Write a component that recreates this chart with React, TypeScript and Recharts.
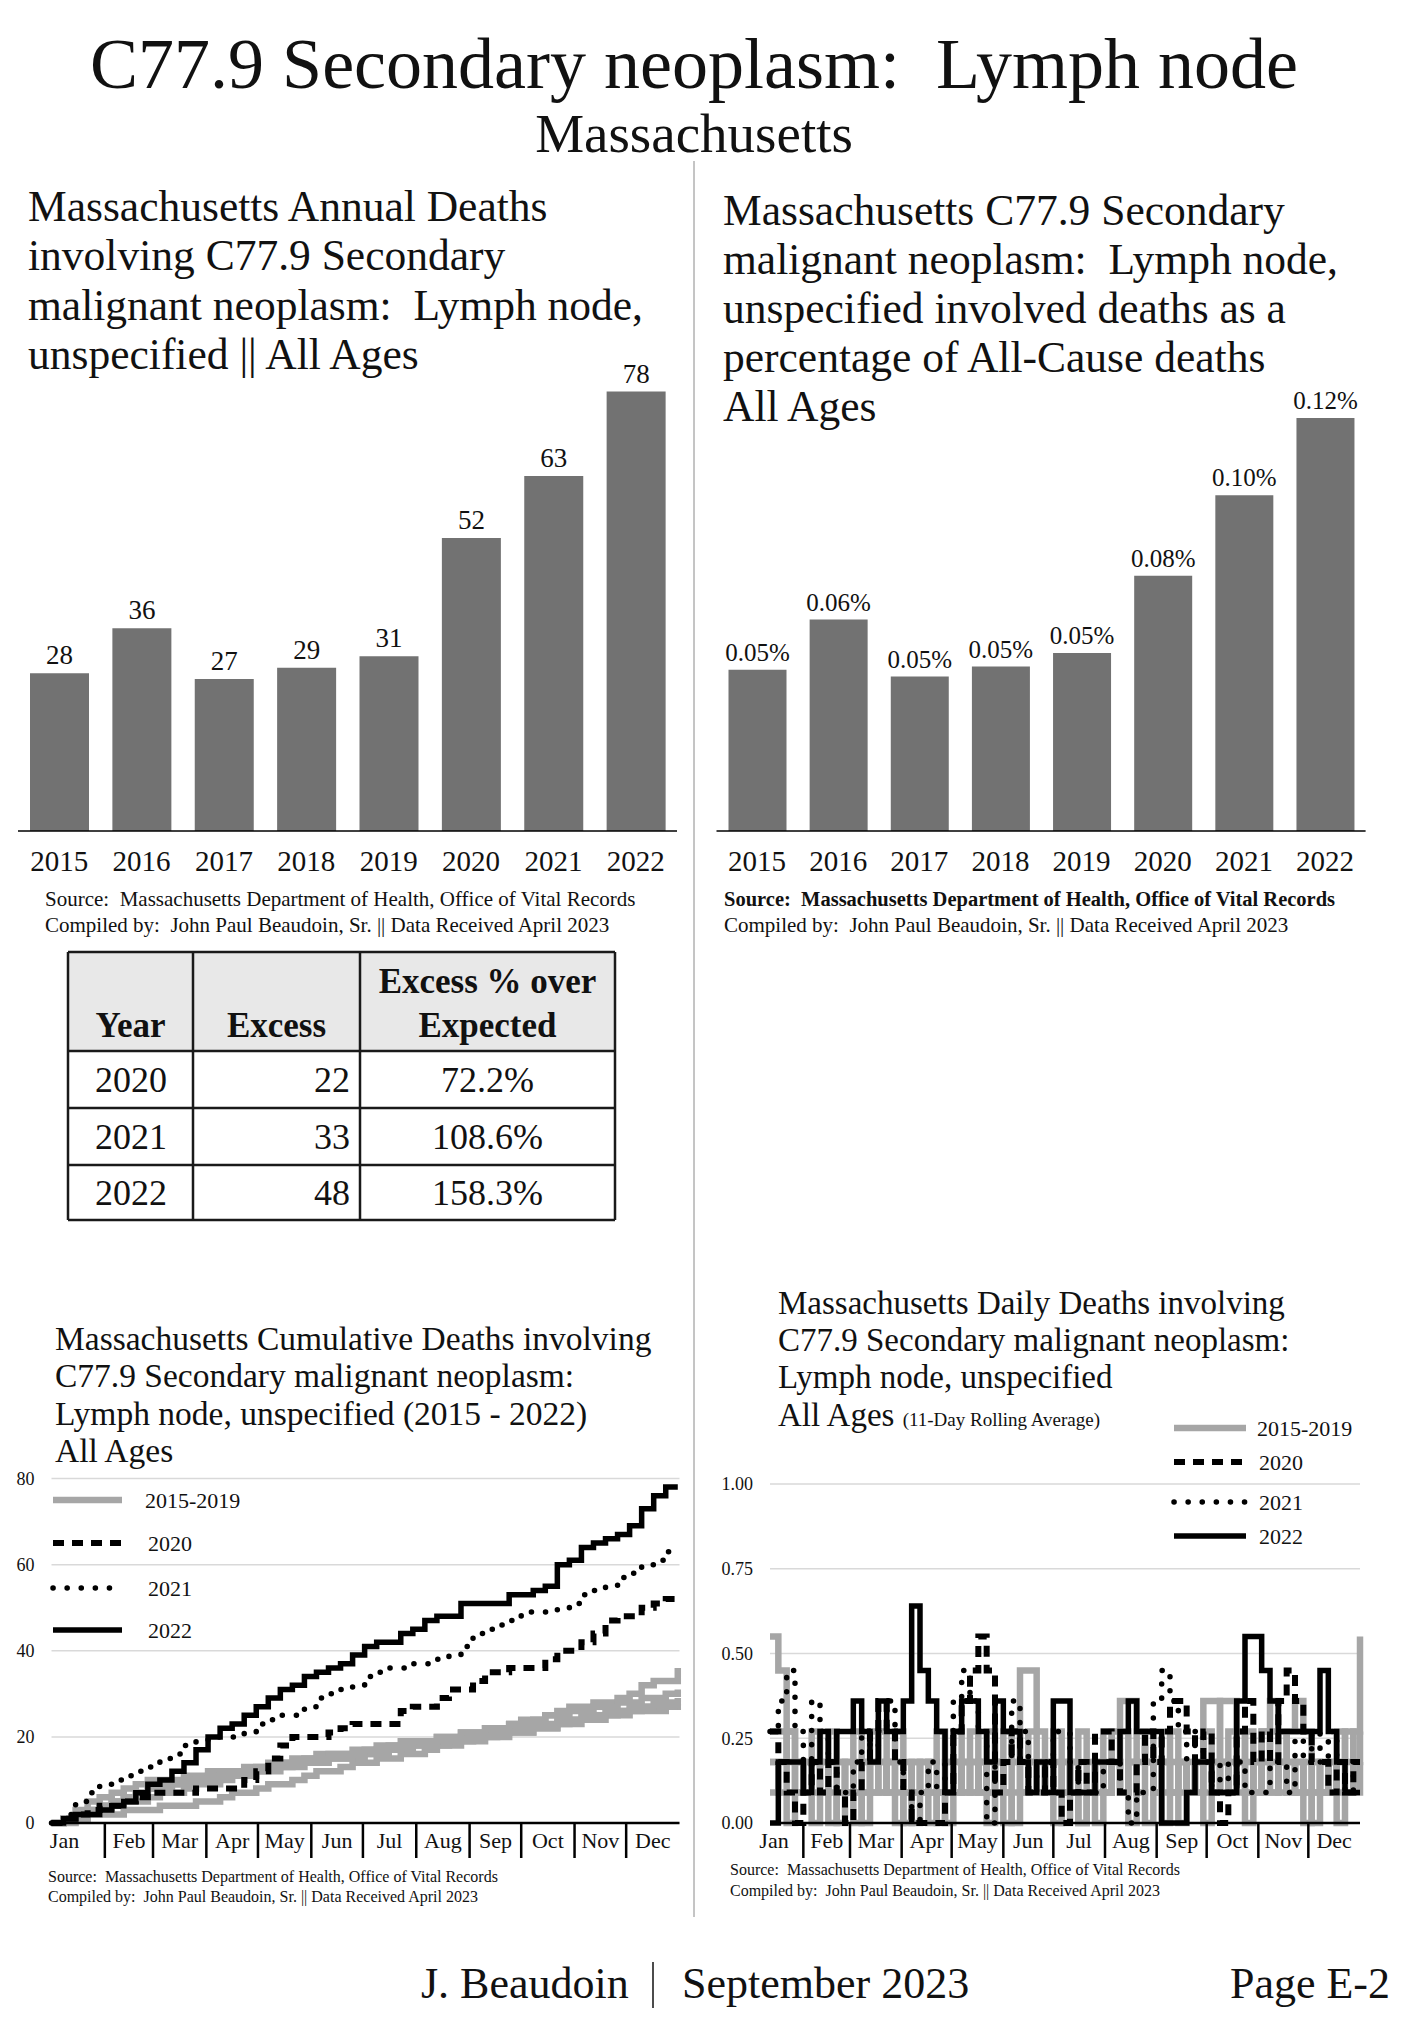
import React from 'react'
import {
  BarChart, Bar, XAxis, YAxis, LabelList, LineChart, Line, CartesianGrid,
} from 'recharts'

const SERIF = '"Liberation Serif", "Times New Roman", Times, serif'
const INK = '#111'
const BAR_GRAY = '#727272'
const LINE_GRAY = '#a6a6a6'
const GRID = '#d9d9d9'

// annual charts
const YEARS = ['2015', '2016', '2017', '2018', '2019', '2020', '2021', '2022']
const ANNUAL_DEATHS = [28, 36, 27, 29, 31, 52, 63, 78]
const PCT_OF_ALL_CAUSE = [0.048, 0.063, 0.046, 0.049, 0.053, 0.076, 0.1, 0.123]

// excess table
const TABLE_YEARS = ['2020', '2021', '2022']
const TABLE_EXCESS = [22, 33, 48]
const TABLE_EXCESS_PCT = ['72.2%', '108.6%', '158.3%']

const MONTHS = ['Jan', 'Feb', 'Mar', 'Apr', 'May', 'Jun', 'Jul', 'Aug', 'Sep', 'Oct', 'Nov', 'Dec']
const MONTH_START_DAYS = [0, 31, 59, 90, 120, 151, 181, 212, 243, 273, 304, 334]

// cumulative deaths, sampled weekly (day of year)
const CUM_DAYS = [
  0, 7, 14, 21, 28, 35, 42, 49, 56, 63, 70, 77, 84,
  91, 98, 105, 112, 119, 126, 133, 140, 147, 154, 161, 168, 175,
  182, 189, 196, 203, 210, 217, 224, 231, 238, 245, 252, 259, 266,
  273, 280, 287, 294, 301, 308, 315, 322, 329, 336, 343, 350, 357,
  364,
]
const CUM_2015 = [
  0, 1, 1, 2, 2, 2, 3, 3, 3, 4, 4, 4, 5,
  5, 6, 7, 7, 8, 9, 9, 10, 11, 12, 12, 13, 14,
  14, 15, 15, 16, 16, 17, 18, 18, 19, 19, 20, 20, 21,
  21, 22, 22, 23, 24, 24, 25, 25, 26, 26, 27, 27, 27,
  28,
]
const CUM_2016 = [
  0, 1, 3, 5, 6, 7, 8, 9, 10, 10, 10, 11, 11,
  12, 12, 12, 13, 13, 14, 14, 15, 15, 16, 16, 16, 17,
  17, 18, 18, 19, 19, 19, 20, 20, 21, 21, 22, 22, 23,
  24, 24, 25, 26, 27, 27, 28, 28, 29, 30, 32, 33, 33,
  36,
]
const CUM_2017 = [
  0, 1, 2, 3, 4, 5, 6, 7, 8, 9, 9, 10, 10,
  10, 11, 11, 12, 12, 13, 13, 14, 14, 14, 15, 15, 15,
  16, 16, 17, 17, 18, 18, 18, 19, 19, 20, 20, 21, 21,
  21, 22, 22, 23, 23, 24, 24, 25, 25, 26, 26, 26, 27,
  27,
]
const CUM_2018 = [
  0, 0, 1, 2, 3, 4, 5, 5, 6, 7, 7, 8, 9,
  9, 10, 11, 11, 12, 12, 13, 13, 14, 14, 15, 15, 16,
  16, 17, 17, 18, 18, 18, 19, 19, 20, 20, 21, 21, 22,
  22, 23, 23, 24, 24, 25, 25, 26, 26, 27, 27, 28, 28,
  29,
]
const CUM_2019 = [
  0, 1, 2, 3, 4, 5, 6, 7, 8, 8, 9, 9, 10,
  11, 11, 12, 12, 13, 13, 14, 14, 15, 15, 16, 16, 16,
  17, 17, 18, 18, 19, 19, 20, 20, 21, 21, 22, 22, 23,
  23, 24, 25, 25, 26, 26, 27, 27, 28, 28, 29, 29, 30,
  31,
]
const CUM_2020 = [
  0, 1, 2, 3, 4, 4, 5, 6, 7, 7, 7, 7, 8,
  8, 8, 8, 10, 12, 15, 18, 20, 20, 20, 21, 22, 23,
  23, 23, 23, 26, 27, 27, 29, 31, 31, 33, 35, 35, 36,
  36, 36, 38, 40, 40, 42, 44, 47, 48, 48, 50, 51, 52,
  53,
]
const CUM_2021 = [
  0, 2, 5, 7, 9, 10, 11, 12, 13, 15, 16, 18, 19,
  20, 20, 20, 21, 23, 24, 25, 25, 27, 29, 30, 31, 32,
  34, 35, 36, 36, 37, 37, 38, 39, 41, 44, 45, 46, 47,
  49, 49, 49, 50, 51, 53, 54, 55, 57, 58, 60, 61, 63,
  63,
]
const CUM_2022 = [
  0, 1, 2, 2, 3, 4, 5, 7, 9, 10, 12, 14, 17,
  20, 22, 23, 25, 27, 29, 31, 32, 34, 35, 36, 37, 39,
  41, 42, 42, 44, 45, 47, 48, 48, 51, 51, 51, 51, 53,
  53, 54, 55, 60, 61, 64, 65, 66, 67, 69, 73, 76, 78,
  78,
]

// daily deaths, 11-day rolling average, sampled every 5 days
const DAILY_DAYS = [
  11, 16, 21, 26, 31, 36, 41, 46, 51, 56, 61, 66,
  71, 76, 81, 86, 91, 96, 101, 106, 111, 116, 121, 126,
  131, 136, 141, 146, 151, 156, 161, 166, 171, 176, 181, 186,
  191, 196, 201, 206, 211, 216, 221, 226, 231, 236, 241, 246,
  251, 256, 261, 266, 271, 276, 281, 286, 291, 296, 301, 306,
  311, 316, 321, 326, 331, 336, 341, 346, 351, 356, 361, 365,
]
const DAILY_2015 = [
  0.55, 0.45, 0.27, 0.18, 0.09, 0.18, 0.09, 0, 0.09, 0.18, 0.27, 0.18,
  0.09, 0.18, 0.09, 0, 0.09, 0.18, 0.09, 0.18, 0.27, 0.18, 0.09, 0.18,
  0.09, 0.18, 0.27, 0.18, 0.09, 0.18, 0.45, 0.45, 0.27, 0.18, 0.09, 0,
  0.09, 0.18, 0.09, 0.18, 0.09, 0.18, 0.27, 0.18, 0.09, 0, 0.09, 0.18,
  0.27, 0.18, 0.09, 0.18, 0.09, 0.18, 0.36, 0.36, 0.27, 0.18, 0.09, 0.18,
  0.09, 0.18, 0.27, 0.36, 0.27, 0.18, 0.09, 0.09, 0.18, 0.09, 0.27, 0.55,
]
const DAILY_2016 = [
  0.27, 0.27, 0.18, 0.09, 0.18, 0.27, 0.18, 0.09, 0, 0.09, 0.18, 0.09,
  0.18, 0.27, 0.18, 0.09, 0, 0.09, 0.18, 0.09, 0.09, 0.18, 0.27, 0.18,
  0.18, 0.09, 0, 0.09, 0.18, 0.27, 0.18, 0.09, 0.18, 0.09, 0, 0.09,
  0.18, 0.27, 0.18, 0.09, 0.18, 0.27, 0.36, 0.36, 0.27, 0.18, 0.09, 0,
  0.09, 0.18, 0.09, 0.18, 0.27, 0.18, 0.09, 0.18, 0.09, 0, 0.09, 0.18,
  0.27, 0.18, 0.09, 0.18, 0.09, 0, 0.09, 0.18, 0.27, 0.18, 0.09, 0.09,
]
const DAILY_2017 = [
  0.18, 0.09, 0, 0.09, 0.18, 0.09, 0.18, 0.27, 0.18, 0.09, 0, 0.09,
  0.18, 0.09, 0.18, 0.27, 0.18, 0.09, 0.18, 0.09, 0, 0.09, 0.18, 0.09,
  0.27, 0.18, 0.09, 0.18, 0.09, 0, 0.09, 0.18, 0.09, 0.18, 0.27, 0.18,
  0.09, 0, 0.09, 0.18, 0.27, 0.18, 0.09, 0.18, 0.09, 0.18, 0.09, 0.18,
  0.09, 0, 0.09, 0.18, 0.36, 0.36, 0.18, 0.09, 0.18, 0.09, 0.18, 0.27,
  0.18, 0.09, 0.18, 0.09, 0, 0.09, 0.18, 0.09, 0.18, 0.27, 0.18, 0.18,
]
const DAILY_2018 = [
  0.09, 0.18, 0.27, 0.18, 0.09, 0, 0.09, 0.18, 0.09, 0.18, 0.09, 0.18,
  0.27, 0.18, 0.09, 0.18, 0.09, 0, 0.09, 0.18, 0.09, 0, 0.09, 0.18,
  0.09, 0.18, 0.09, 0.18, 0.27, 0.18, 0.09, 0.18, 0.09, 0.18, 0.09, 0.18,
  0.09, 0, 0.09, 0.18, 0.09, 0.18, 0.09, 0, 0.18, 0.27, 0.18, 0.09,
  0.18, 0.09, 0.18, 0.09, 0, 0.09, 0.18, 0.27, 0.18, 0.09, 0.18, 0.27,
  0.36, 0.27, 0.18, 0.09, 0.18, 0.09, 0.18, 0.09, 0, 0.09, 0.18, 0.27,
]
const DAILY_2019 = [
  0.18, 0.18, 0.09, 0.18, 0.09, 0.18, 0.09, 0.18, 0.18, 0.09, 0.09, 0,
  0.09, 0.09, 0.18, 0.18, 0.09, 0.18, 0.09, 0, 0.09, 0.09, 0.18, 0.09,
  0.18, 0.09, 0.18, 0.09, 0, 0.09, 0.18, 0.27, 0.18, 0.09, 0.18, 0.09,
  0.18, 0.09, 0.09, 0, 0.09, 0.18, 0.09, 0.18, 0.27, 0.18, 0.09, 0.18,
  0.09, 0.18, 0.09, 0.09, 0.18, 0.09, 0.18, 0.09, 0.18, 0.27, 0.18, 0.09,
  0.09, 0.18, 0.09, 0.18, 0.09, 0.18, 0.09, 0.18, 0.09, 0.09, 0.09, 0.18,
]
const DAILY_2020 = [
  0.27, 0.18, 0.09, 0, 0.09, 0.18, 0.09, 0.18, 0.09, 0, 0.09, 0.18,
  0.27, 0.36, 0.27, 0.18, 0.09, 0, 0, 0, 0, 0.09, 0.27, 0.36,
  0.45, 0.55, 0.45, 0.09, 0.18, 0.27, 0.18, 0.09, 0.09, 0.18, 0.09, 0,
  0.09, 0.18, 0.09, 0.27, 0.27, 0.18, 0.09, 0.09, 0.18, 0.27, 0.18, 0.27,
  0.36, 0.36, 0.27, 0.18, 0.27, 0.09, 0, 0.09, 0.27, 0.36, 0.18, 0.27,
  0.18, 0.36, 0.45, 0.36, 0.27, 0.18, 0.18, 0.09, 0.18, 0.09, 0.18, 0.18,
]
const DAILY_2021 = [
  0.27, 0.36, 0.45, 0.27, 0.18, 0.36, 0.27, 0.18, 0.09, 0.09, 0.18, 0.27,
  0.18, 0.27, 0.36, 0.18, 0.09, 0, 0.09, 0.18, 0.09, 0.18, 0.36, 0.45,
  0.36, 0.27, 0, 0.18, 0.18, 0.36, 0.27, 0.18, 0.09, 0.18, 0.27, 0.27,
  0.18, 0.09, 0.09, 0.09, 0.18, 0.18, 0.09, 0, 0.09, 0.09, 0.36, 0.45,
  0.36, 0.27, 0.18, 0.27, 0.18, 0.09, 0.18, 0.09, 0.18, 0.09, 0.09, 0.09,
  0.18, 0.18, 0.09, 0.27, 0.18, 0.27, 0.18, 0.27, 0.18, 0.09, 0.18, 0.18,
]
const DAILY_2022 = [
  0, 0.18, 0.18, 0.18, 0.09, 0.18, 0.27, 0.18, 0.27, 0.27, 0.36, 0.27,
  0.18, 0.36, 0.27, 0.27, 0.36, 0.64, 0.45, 0.36, 0.27, 0.09, 0.27, 0.36,
  0.36, 0.27, 0.18, 0.36, 0.27, 0.27, 0.18, 0.09, 0.18, 0.09, 0.36, 0.36,
  0.09, 0.09, 0.09, 0.18, 0.18, 0.18, 0.27, 0.36, 0.27, 0.27, 0.27, 0,
  0, 0, 0.09, 0.18, 0.18, 0.09, 0.09, 0.09, 0.36, 0.55, 0.55, 0.45,
  0.36, 0.27, 0.27, 0.27, 0.27, 0.27, 0.45, 0.27, 0.18, 0.09, 0.09, 0.09,
]

const annualData = YEARS.map((year, i) => ({ year, deaths: ANNUAL_DEATHS[i], pct: PCT_OF_ALL_CAUSE[i] }))

const cumData = CUM_DAYS.map((day, i) => ({
  day,
  y2015: CUM_2015[i], y2016: CUM_2016[i], y2017: CUM_2017[i], y2018: CUM_2018[i], y2019: CUM_2019[i],
  y2020: CUM_2020[i], y2021: CUM_2021[i], y2022: CUM_2022[i],
}))

const dailyData = DAILY_DAYS.map((day, i) => ({
  day,
  y2015: DAILY_2015[i], y2016: DAILY_2016[i], y2017: DAILY_2017[i], y2018: DAILY_2018[i], y2019: DAILY_2019[i],
  y2020: DAILY_2020[i], y2021: DAILY_2021[i], y2022: DAILY_2022[i],
}))

const GRAY_KEYS = ['y2015', 'y2016', 'y2017', 'y2018', 'y2019']

// line looks shared by the two line charts and their legends
const SERIES_STYLE = [
  { label: '2015-2019', stroke: LINE_GRAY, width: 6.5, dash: undefined as string | undefined, cap: 'butt' },
  { label: '2020', stroke: '#000', width: 6, dash: '11 8', cap: 'butt' },
  { label: '2021', stroke: '#000', width: 5.5, dash: '0.1 14', cap: 'round' },
  { label: '2022', stroke: '#000', width: 5.5, dash: undefined as string | undefined, cap: 'butt' },
]

function MonthTick(props: any) {
  const { x, y, payload, pxPerDay, janDx } = props
  const v = payload.value
  const i = v < 31 ? 0 : MONTH_START_DAYS.indexOf(v)
  const end = i < 11 ? MONTH_START_DAYS[i + 1] : 365
  const cx = i === 0 ? x + janDx : x + ((end - v) / 2) * pxPerDay
  return (
    <g>
      {i > 0 && <line x1={x} y1={y} x2={x} y2={y + 35} stroke="#000" strokeWidth={2.5} />}
      <text x={cx} y={y + 25} textAnchor="middle" fontSize={22} fontFamily={SERIF} fill={INK}>
        {MONTHS[i]}
      </text>
    </g>
  )
}

function T({ x, y, size, children, anchor = 'start', bold = false }: any) {
  return (
    <text x={x} y={y} fontSize={size} fontFamily={SERIF} fill={INK} textAnchor={anchor}
      fontWeight={bold ? 'bold' : 'normal'} style={{ whiteSpace: 'pre' }}>
      {children}
    </text>
  )
}

function LegendRows({ x1, x2, tx, rows }: any) {
  return (
    <g>
      {SERIES_STYLE.map((s, i) => (
        <g key={s.label}>
          <line x1={x1} x2={x2} y1={rows[i]} y2={rows[i]} stroke={s.stroke} strokeWidth={s.width}
            strokeDasharray={s.dash} strokeLinecap={s.cap as any} />
          <T x={tx[i]} y={rows[i] + 8} size={22}>{s.label}</T>
        </g>
      ))}
    </g>
  )
}

function seriesLines() {
  return [
    ...GRAY_KEYS.map(k => (
      <Line key={k} dataKey={k} type="stepAfter" stroke={LINE_GRAY} strokeWidth={SERIES_STYLE[0].width}
        dot={false} activeDot={false} isAnimationActive={false} />
    )),
    ...['y2020', 'y2021', 'y2022'].map((k, j) => {
      const s = SERIES_STYLE[j + 1]
      return (
        <Line key={k} dataKey={k} type="stepAfter" stroke={s.stroke} strokeWidth={s.width}
          strokeDasharray={s.dash} strokeLinecap={s.cap as any} dot={false} activeDot={false}
          isAnimationActive={false} />
      )
    }),
  ]
}

const yearTick = { fill: INK, fontSize: 29, fontFamily: SERIF }
const smallTick = { fill: INK, fontSize: 18, fontFamily: SERIF }

export default function App() {
  return (
    <div style={{ position: 'absolute', left: 0, top: 0, width: 1418, height: 2018, background: '#fff', overflow: 'hidden' }}>
      {/* annual deaths */}
      <div style={{ position: 'absolute', left: 0, top: 300 }}>
        <BarChart width={700} height={600} data={annualData} margin={{ top: 24, right: 23, bottom: 0, left: 18 }}>
          <XAxis dataKey="year" height={69} interval={0} tickLine={false} tickSize={0} tickMargin={19}
            axisLine={{ stroke: '#000', strokeWidth: 1.5 }} tick={yearTick} />
          <YAxis hide domain={[0, 90]} />
          <Bar dataKey="deaths" fill={BAR_GRAY} barSize={59} isAnimationActive={false}>
            <LabelList dataKey="deaths" position="top" offset={9} fill={INK} fontSize={27} fontFamily={SERIF} />
          </Bar>
        </BarChart>
      </div>

      {/* percentage of all-cause deaths */}
      <div style={{ position: 'absolute', left: 700, top: 300 }}>
        <BarChart width={718} height={600} data={annualData} margin={{ top: 61, right: 52.4, bottom: 0, left: 16.5 }}>
          <XAxis dataKey="year" height={69} interval={0} tickLine={false} tickSize={0} tickMargin={19}
            axisLine={{ stroke: '#000', strokeWidth: 1.5 }} tick={yearTick} />
          <YAxis hide domain={[0, 0.14]} />
          <Bar dataKey="pct" fill={BAR_GRAY} barSize={58} isAnimationActive={false}>
            <LabelList dataKey="pct" position="top" offset={9} fill={INK} fontSize={25} fontFamily={SERIF}
              formatter={(v: any) => `${Number(v).toFixed(2)}%`} />
          </Bar>
        </BarChart>
      </div>

      {/* cumulative deaths */}
      <div style={{ position: 'absolute', left: 0, top: 1440 }}>
        <LineChart width={700} height={440} data={cumData} margin={{ top: 38.5, right: 20.5, bottom: 0, left: 0 }}>
          <CartesianGrid vertical={false} stroke={GRID} strokeWidth={1.5} />
          <XAxis dataKey="day" type="number" domain={[0, 365]} ticks={MONTH_START_DAYS} interval={0}
            height={57} tickSize={0} tickMargin={0} tickLine={false}
            axisLine={{ stroke: '#000', strokeWidth: 2.5 }}
            tick={(p: any) => <MonthTick {...p} pxPerDay={628 / 365} janDx={13} />} />
          <YAxis domain={[0, 80]} ticks={[0, 20, 40, 60, 80]} width={51.5} axisLine={false} tickLine={false}
            tickSize={0} tickMargin={17} tick={smallTick} />
          {seriesLines()}
        </LineChart>
      </div>

      {/* daily deaths */}
      <div style={{ position: 'absolute', left: 700, top: 1440 }}>
        <LineChart width={718} height={440} data={dailyData} margin={{ top: 44, right: 58, bottom: 0, left: 0 }}>
          <CartesianGrid vertical={false} stroke={GRID} strokeWidth={1.5} />
          <XAxis dataKey="day" type="number" domain={[11, 365]} ticks={[11, ...MONTH_START_DAYS.slice(1)]}
            interval={0} height={57} tickSize={0} tickMargin={0} tickLine={false}
            axisLine={{ stroke: '#000', strokeWidth: 2.5 }}
            tick={(p: any) => <MonthTick {...p} pxPerDay={590 / 354} janDx={4} />} />
          <YAxis domain={[0, 1]} ticks={[0, 0.25, 0.5, 0.75, 1]} width={70} axisLine={false} tickLine={false}
            tickSize={0} tickMargin={17} tick={smallTick} tickFormatter={(v: number) => v.toFixed(2)} />
          {seriesLines()}
        </LineChart>
      </div>

      <svg width={1418} height={2018} style={{ position: 'absolute', left: 0, top: 0, pointerEvents: 'none' }}>
        <T x={694} y={88} size={72} anchor="middle">C77.9 Secondary neoplasm:  Lymph node</T>
        <T x={694} y={152} size={55} anchor="middle">Massachusetts</T>
        <line x1={694} x2={694} y1={161} y2={1917} stroke="#8a8a8a" strokeWidth={1} />

        <T x={28} y={221} size={43.5}>Massachusetts Annual Deaths</T>
        <T x={28} y={270} size={43.5}>involving C77.9 Secondary</T>
        <T x={28} y={320} size={43.5}>malignant neoplasm:  Lymph node,</T>
        <T x={28} y={369} size={43.5}>unspecified || All Ages</T>
        <T x={45} y={906} size={21}>Source:  Massachusetts Department of Health, Office of Vital Records</T>
        <T x={45} y={932} size={21}>Compiled by:  John Paul Beaudoin, Sr. || Data Received April 2023</T>

        <T x={723} y={225} size={43.5}>Massachusetts C77.9 Secondary</T>
        <T x={723} y={274} size={43.5}>malignant neoplasm:  Lymph node,</T>
        <T x={723} y={323} size={43.5}>unspecified involved deaths as a</T>
        <T x={723} y={372} size={43.5}>percentage of All-Cause deaths</T>
        <T x={723} y={421} size={43.5}>All Ages</T>
        <T x={724} y={906} size={20.5} bold>Source:  Massachusetts Department of Health, Office of Vital Records</T>
        <T x={724} y={932} size={21}>Compiled by:  John Paul Beaudoin, Sr. || Data Received April 2023</T>

        {/* excess table */}
        <rect x={68} y={952} width={547} height={99} fill="#e8e8e8" />
        {[952, 1051, 1108, 1165, 1220].map(y => (
          <line key={y} x1={68} x2={615} y1={y} y2={y} stroke="#1a1a1a" strokeWidth={2.5} />
        ))}
        {[68, 193, 360, 615].map(x => (
          <line key={x} x1={x} x2={x} y1={952} y2={1220} stroke="#1a1a1a" strokeWidth={2.5} />
        ))}
        <T x={130.5} y={1037} size={35} anchor="middle" bold>Year</T>
        <T x={276.5} y={1037} size={35} anchor="middle" bold>Excess</T>
        <T x={487.5} y={993} size={35} anchor="middle" bold>Excess % over</T>
        <T x={487.5} y={1037} size={35} anchor="middle" bold>Expected</T>
        {TABLE_YEARS.map((yr, i) => {
          const base = [1092, 1149, 1205][i]
          return (
            <g key={yr}>
              <T x={95} y={base} size={36}>{yr}</T>
              <T x={350} y={base} size={36} anchor="end">{TABLE_EXCESS[i]}</T>
              <T x={487.5} y={base} size={36} anchor="middle">{TABLE_EXCESS_PCT[i]}</T>
            </g>
          )
        })}

        <T x={55} y={1350} size={33.5}>Massachusetts Cumulative Deaths involving</T>
        <T x={55} y={1387} size={33.5}>C77.9 Secondary malignant neoplasm:</T>
        <T x={55} y={1425} size={33.5}>Lymph node, unspecified (2015 - 2022)</T>
        <T x={55} y={1462} size={33.5}>All Ages</T>
        <LegendRows x1={53} x2={122} tx={[145, 148, 148, 148]} rows={[1500, 1543, 1588, 1630]} />
        <T x={48} y={1882} size={16}>Source:  Massachusetts Department of Health, Office of Vital Records</T>
        <T x={48} y={1902} size={16}>Compiled by:  John Paul Beaudoin, Sr. || Data Received April 2023</T>

        <T x={778} y={1314} size={33}>Massachusetts Daily Deaths involving</T>
        <T x={778} y={1351} size={33}>C77.9 Secondary malignant neoplasm:</T>
        <T x={778} y={1388} size={33}>Lymph node, unspecified</T>
        <text x={778} y={1426} fontFamily={SERIF} fill={INK} style={{ whiteSpace: 'pre' }}>
          <tspan fontSize={33}>All Ages </tspan>
          <tspan fontSize={19}>(11-Day Rolling Average)</tspan>
        </text>
        <LegendRows x1={1174} x2={1246} tx={[1257, 1259, 1259, 1259]} rows={[1428, 1462, 1502, 1536]} />
        <T x={730} y={1875} size={16}>Source:  Massachusetts Department of Health, Office of Vital Records</T>
        <T x={730} y={1896} size={16}>Compiled by:  John Paul Beaudoin, Sr. || Data Received April 2023</T>

        <T x={421} y={1998} size={44}>J. Beaudoin</T>
        <line x1={653} x2={653} y1={1962} y2={2008} stroke={INK} strokeWidth={1.5} />
        <T x={682} y={1998} size={44}>September 2023</T>
        <T x={1390} y={1998} size={44} anchor="end">Page E-2</T>
      </svg>
    </div>
  )
}
